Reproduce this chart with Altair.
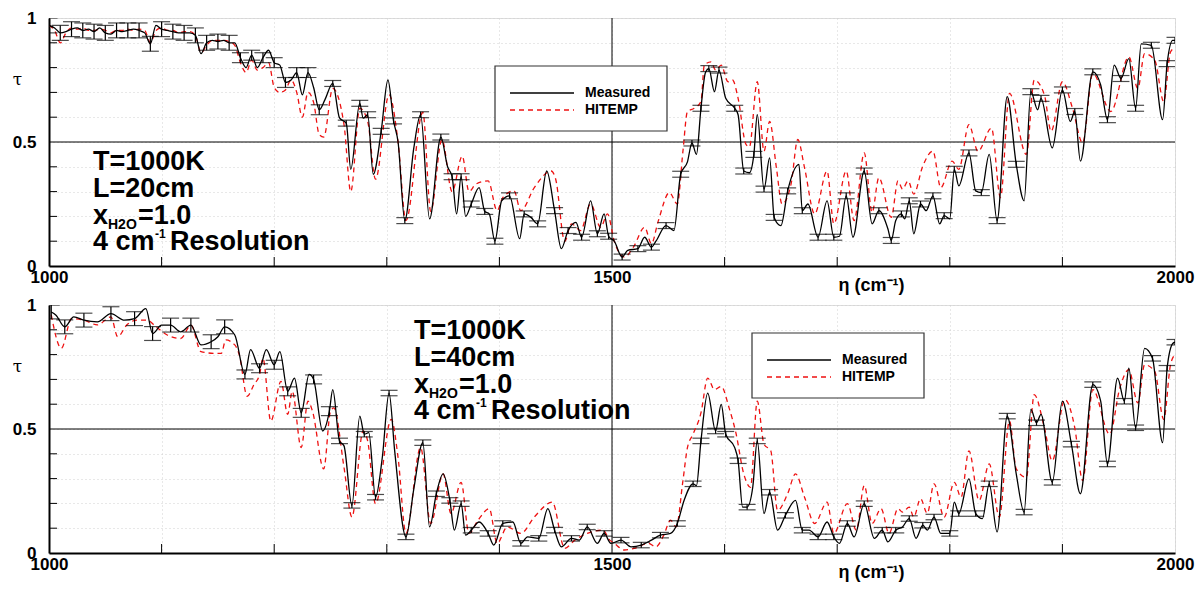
import altair as alt
import pandas as pd

# ---------------- data ----------------
# Panel 1: T=1000K, L=20cm
M1_X = [1000,1005,1010,1015,1020,1025,1030,1035,1040,1045,1050,1055,1060,1065,1070,1075,1080,1085,1090,1095,1100,1105,1110,1115,1120,1125,1130,1135,1140,1145,1150,1155,1160,1165,1170,1175,1180,1185,1190,1195,1200,1205,1210,1215,1220,1225,1230,1235,1240,1245,
        1252,1258,1264,1268,1276,1279,1283,1288,1295,1301,1306,1310,1316,1324,1330,1338,1348,1354,1358,1362,1366,1370,1375,1382,1387,1391,1396,1402,1409,1418,1422,1428,1434,1442,1449,1455,1461,1468,1473,1481,1487,1493,1497,
        1502,1509,1514,1523,1529,1535,1539,1548,1555,1561,1567,1571,1575,1579,1583,1586,1591,1595,1601,1609,1612,1617,1622,1626,1629,1635,1640,1644,1650,1656,1666,1669,1674,1683,1691,1697,1702,1708,1714,1724,1731,1737,
        1745,1748,1752,1757,1760,1764,1768,1774,1779,1785,1791,1795,1800,1804,1808,1817,1823,1828,1835,1842,1851,1859,1866,1872,1878,1881,1891,1900,1907,1911,1916,1927,1934,1940,1946,1952,1959,1965,1970,1979,1989,1993,1998,2000]
M1_Y = [.97,.96,.94,.945,.955,.96,.95,.955,.945,.96,.94,.935,.95,.945,.95,.955,.95,.94,.896,.97,.955,.95,.945,.94,.94,.94,.93,.856,.90,.91,.905,.91,.90,.90,.84,.80,.85,.80,.84,.87,.82,.81,.74,.75,.78,.69,.78,.72,.63,.67,
        .736,.597,.576,.39,.656,.596,.61,.37,.543,.75,.585,.50,.183,.476,.61,.19,.52,.40,.36,.21,.36,.20,.25,.316,.22,.21,.10,.263,.283,.11,.21,.196,.17,.383,.223,.07,.143,.176,.116,.263,.13,.21,.12,
        .10,.036,.063,.07,.116,.076,.10,.163,.143,.37,.42,.496,.45,.636,.78,.796,.703,.79,.676,.636,.61,.383,.376,.45,.61,.31,.436,.196,.163,.303,.41,.223,.25,.116,.263,.116,.12,.283,.116,.383,.17,.223,
        .15,.103,.183,.21,.19,.263,.13,.25,.223,.283,.17,.203,.19,.39,.323,.456,.303,.296,.45,.183,.683,.41,.263,.703,.63,.676,.476,.71,.583,.623,.423,.783,.73,.59,.81,.756,.836,.636,.896,.89,.59,.816,.91,.91]
H1_X = [1000,1005,1010,1015,1020,1025,1030,1035,1040,1045,1050,1055,1060,1065,1070,1075,1080,1085,1090,1095,1100,1105,1110,1115,1120,1125,1130,1135,1140,1145,1150,1155,1160,1165,1170,1175,1180,1185,1190,1195,1200,1205,1210,1215,1220,1225,1230,1235,1240,1244,
        1252,1262,1268,1276,1283,1290,1302,1310,1317,1332,1339,1349,1358,1367,1373,1379,1390,1398,1403,1413,1419,1431,1446,1450,1458,1464,1472,1481,1490,1496,
        1502,1511,1519,1529,1535,1541,1551,1558,1563,1567,1573,1579,1582,1588,1592,1597,1603,1607,1612,1619,1622,1629,1635,1640,1646,1651,1659,1665,1671,1680,1691,1697,1708,1715,1724,1731,1737,
        1748,1754,1758,1763,1768,1776,1785,1792,1802,1808,1817,1825,1837,1845,1853,1868,1875,1884,1890,1900,1909,1918,1927,1943,1959,1967,1973,1982,1990,1996,2000]
H1_Y = [.97,.95,.90,.94,.96,.955,.96,.95,.95,.955,.95,.94,.95,.95,.955,.95,.955,.95,.90,.95,.96,.95,.95,.94,.945,.945,.93,.86,.89,.91,.91,.91,.905,.89,.82,.78,.83,.79,.80,.82,.72,.70,.71,.75,.70,.60,.70,.66,.53,.52,
        .716,.57,.30,.636,.583,.35,.69,.50,.183,.62,.22,.51,.30,.443,.30,.33,.343,.223,.276,.303,.223,.316,.383,.35,.10,.17,.143,.25,.156,.21,
        .10,.036,.076,.156,.09,.18,.296,.25,.463,.623,.636,.663,.81,.823,.79,.81,.743,.75,.676,.49,.48,.743,.463,.583,.396,.25,.33,.51,.396,.21,.383,.17,.383,.183,.456,.216,.356,
        .196,.343,.31,.343,.29,.403,.463,.316,.423,.39,.57,.463,.556,.276,.696,.45,.75,.69,.543,.743,.636,.496,.776,.623,.843,.716,.856,.83,.663,.863,.88]

# Panel 2: T=1000K, L=40cm
M2_X = [1002,1006,1014,1022,1031,1043,1055,1067,1076,1086,1092,1100,1108,1117,1126,1135,1144,1150,1156,1165,1174,1179,1187,1193,1200,1205,1212,1218,1224,1231,1235,1243,1249,
        1252,1258,1262,1269,1276,1280,1284,1290,1296,1302,1307,1317,1324,1332,1338,1344,1350,1356,1360,1366,1370,1375,1382,1390,1395,1403,1412,1419,1425,1435,1443,1449,1455,1464,1471,1478,1487,1493,
        1499,1508,1517,1526,1535,1543,1552,1558,1564,1572,1575,1579,1585,1592,1597,1601,1609,1612,1616,1620,1625,1629,1635,1640,1647,1654,1663,1669,1675,1683,1691,1697,1702,1709,1715,1724,1733,1740,
        1745,1752,1758,1764,1770,1776,1780,1786,1792,1800,1804,1808,1817,1823,1829,1835,1842,1851,1859,1866,1872,1877,1881,1891,1900,1908,1916,1927,1934,1940,1949,1955,1959,1965,1973,1980,1989,1993,1998,2000]
M2_Y = [.972,.96,.912,.952,.939,.932,.965,.939,.945,.985,.885,.919,.919,.892,.919,.839,.852,.872,.912,.879,.72,.82,.745,.82,.759,.812,.652,.705,.565,.72,.70,.492,.572,
        .659,.452,.432,.192,.552,.479,.485,.225,.385,.645,.412,.065,.259,.445,.105,.239,.319,.212,.092,.199,.072,.092,.125,.079,.032,.119,.125,.039,.065,.059,.179,.092,.025,.059,.052,.105,.039,.079,
        .039,.052,.025,.032,.052,.072,.079,.119,.212,.279,.272,.452,.645,.492,.599,.479,.425,.372,.185,.185,.265,.452,.159,.245,.092,.152,.212,.092,.092,.065,.125,.065,.039,.119,.065,.199,.059,.092,
        .045,.092,.105,.139,.059,.112,.092,.145,.079,.079,.205,.159,.299,.159,.139,.279,.085,.552,.319,.165,.579,.525,.559,.285,.612,.439,.239,.679,.612,.359,.705,.612,.745,.505,.825,.785,.445,.745,.845,.85]
H2_X = [1002,1011,1020,1031,1043,1055,1061,1069,1078,1087,1095,1105,1117,1126,1135,1147,1153,1157,1165,1169,1176,1182,1187,1190,1197,1206,1212,1216,1224,1230,1234,1244,1250,
        1253,1262,1269,1279,1283,1290,1304,1310,1317,1330,1339,1350,1357,1366,1373,1381,1391,1398,1407,1419,1431,1447,1458,1467,1478,1492,1498,
        1502,1511,1520,1532,1539,1546,1552,1557,1563,1567,1572,1579,1585,1591,1597,1604,1610,1617,1623,1629,1635,1641,1647,1656,1663,1671,1680,1691,1697,1709,1717,1724,1731,1739,
        1746,1754,1758,1764,1768,1774,1780,1786,1795,1804,1810,1817,1826,1835,1844,1853,1859,1868,1875,1884,1891,1902,1911,1918,1927,1942,1951,1959,1967,1973,1982,1990,1996,2000]
H2_Y = [.96,.825,.945,.939,.92,.952,.872,.919,.939,.939,.912,.879,.865,.919,.812,.805,.805,.859,.839,.799,.632,.679,.72,.785,.532,.692,.559,.652,.425,.612,.572,.339,.572,
        .585,.345,.145,.492,.452,.199,.539,.385,.079,.425,.119,.319,.159,.285,.079,.132,.179,.039,.105,.079,.145,.205,.019,.052,.079,.092,.052,
        .039,.012,.019,.039,.025,.072,.132,.105,.292,.425,.479,.565,.705,.659,.672,.585,.485,.319,.265,.612,.439,.412,.172,.239,.319,.225,.119,.205,.079,.199,.092,.272,.119,.179,
        .079,.179,.165,.185,.145,.219,.16,.279,.145,.285,.225,.412,.212,.359,.145,.532,.339,.305,.639,.505,.372,.619,.505,.292,.659,.479,.665,.739,.605,.759,.732,.539,.759,.8]

# approximate half-width of the error bars, by wavenumber band
ERR1_EDGES = [1000, 1168, 1250, 2001]
ERR1_HALF = [0.03, 0.02, 0.012]
ERR2_EDGES = [1000, 1168, 1250, 2001]
ERR2_HALF = [0.028, 0.018, 0.011]

X_TICKS = [1000, 1100, 1200, 1300, 1400, 1500, 1600, 1700, 1800, 1900, 2000]
X_LABELED = [1000, 1500, 2000]
Y_TICKS = [0, 0.1, 0.2, 0.3, 0.4, 0.5, 0.6, 0.7, 0.8, 0.9, 1]
Y_LABELED = {0: "0", 0.5: "0.5", 1: "1"}
X_INNER = [1100, 1200, 1300, 1400, 1600, 1700, 1800, 1900]
Y_INNER = [0.1, 0.2, 0.3, 0.4, 0.6, 0.7, 0.8, 0.9]
REF_X = 1500
REF_Y = 0.5
SERIES = ["Measured", "HITEMP"]

# ---------------- styling ----------------
W, H = 1126, 248
RED = "#ee1111"
FONT = "Liberation Sans, Arial, sans-serif"

x_expr = " : ".join(f"datum.value == {v} ? '{v}'" for v in X_LABELED) + " : ''"
y_expr = " : ".join(f"datum.value == {k} ? '{s}'" for k, s in Y_LABELED.items()) + " : ''"

xscale = alt.Scale(domain=[1000, 2000], nice=False, zero=False)
yscale = alt.Scale(domain=[0, 1], nice=False, zero=False)

xaxis = alt.Axis(values=X_TICKS, labelExpr=x_expr, grid=True, gridColor="#d0d0d0",
                 gridDash=[1, 3], gridWidth=1, ticks=False, domainColor="black",
                 domainWidth=2, labelFont=FONT, labelFontSize=17, labelFontWeight="bold",
                 labelColor="black", labelPadding=3, labelOverlap=False, labelFlush=False,
                 title="η (cm⁻¹)", titleFont=FONT, titleFontSize=18, titleFontWeight="bold",
                 titleColor="black", titleX=822, titleY=19, titleAlign="center",
                 titleBaseline="middle")
yaxis = alt.Axis(values=Y_TICKS, labelExpr=y_expr, grid=True, gridColor="#d0d0d0",
                 gridDash=[1, 3], gridWidth=1, ticks=False, domainColor="black",
                 domainWidth=2, labelFont=FONT, labelFontSize=17, labelFontWeight="bold",
                 labelColor="black", labelPadding=13, labelOverlap=False, labelFlush=False,
                 title="τ", titleFont="DejaVu Serif, serif", titleFontSize=17,
                 titleFontWeight="normal", titleColor="black", titleAngle=0, titleX=-32,
                 titleY=61, titleAlign="center", titleBaseline="middle")

DUMMY = pd.DataFrame({"d": [0]})


def series_line(xs, ys, color, width, dash=None):
    df = pd.DataFrame({"x": xs, "y": ys})
    kw = dict(color=color, strokeWidth=width, interpolate="monotone", clip=True)
    if dash:
        kw["strokeDash"] = dash
    return alt.Chart(df).mark_line(**kw).encode(
        x=alt.X("x:Q", scale=xscale, axis=xaxis),
        y=alt.Y("y:Q", scale=yscale, axis=yaxis))


def error_bars(xs, ys, edges, halves):
    rows = []
    for i, (x, y) in enumerate(zip(xs, ys)):
        if i % 2:
            continue
        e = halves[-1]
        for k in range(len(halves)):
            if edges[k] <= x < edges[k + 1]:
                e = halves[k]
                break
        rows.append({"x": x, "lo": y - e, "hi": y + e})
    df = pd.DataFrame(rows)
    return alt.Chart(df).mark_errorbar(ticks=True, size=17, thickness=1.2,
                                       color="black", clip=True).encode(
        x=alt.X("x:Q", scale=xscale, axis=xaxis),
        y=alt.Y("lo:Q", scale=yscale, axis=yaxis),
        y2="hi:Q")


def text(t, px, py, size=27, weight="bold", align="left", baseline="alphabetic"):
    return alt.Chart(DUMMY).mark_text(text=t, font=FONT, fontSize=size, fontWeight=weight,
                                      align=align, baseline=baseline, color="black").encode(
        x=alt.value(px), y=alt.value(py))


def annotation(left, b0, length_label):
    b = [b0, b0 + 27, b0 + 54, b0 + 80]
    return [
        text("T=1000K", left, b[0]),
        text(length_label, left, b[1]),
        text("x", left, b[2]),
        text("H2O", left + 15, b[2] + 5, size=14),
        text("=1.0", left + 45, b[2]),
        text("4 cm", left, b[3]),
        text("-1", left + 62, b[3] - 12, size=12),
        text("Resolution", left + 77, b[3]),
    ]


def legend(bx, by):
    box = alt.Chart(DUMMY).mark_rect(fill="white", stroke="#333333", strokeWidth=1.2).encode(
        x=alt.value(bx), x2=alt.value(bx + 172), y=alt.value(by), y2=alt.value(by + 65))
    l1 = alt.Chart(DUMMY).mark_rule(color="black", strokeWidth=1.3).encode(
        x=alt.value(bx + 15), x2=alt.value(bx + 79), y=alt.value(by + 27))
    l2 = alt.Chart(DUMMY).mark_rule(color=RED, strokeWidth=1.3, strokeDash=[5, 4]).encode(
        x=alt.value(bx + 15), x2=alt.value(bx + 79), y=alt.value(by + 44))
    t1 = text(SERIES[0], bx + 90, by + 27, size=14, baseline="middle")
    t2 = text(SERIES[1], bx + 90, by + 44, size=14, baseline="middle")
    return [box, l1, l2, t1, t2]


def panel(mx, my, hx, hy, edges, halves, bx, by, tl, tb, length_label):
    ref_h = alt.Chart(DUMMY).mark_rule(color="black", strokeWidth=1).encode(
        y=alt.Y(datum=REF_Y, scale=yscale, axis=yaxis))
    ref_v = alt.Chart(DUMMY).mark_rule(color="black", strokeWidth=1).encode(
        x=alt.X(datum=REF_X, scale=xscale, axis=xaxis))
    yin = alt.Chart(pd.DataFrame({"t": Y_INNER})).mark_rule(color="black", strokeWidth=1).encode(
        y=alt.Y("t:Q", scale=yscale, axis=yaxis), x=alt.value(0), x2=alt.value(8))
    xin = alt.Chart(pd.DataFrame({"t": X_INNER})).mark_rule(color="black", strokeWidth=1).encode(
        x=alt.X("t:Q", scale=xscale, axis=xaxis), y=alt.value(H), y2=alt.value(H - 9))
    layers = [ref_h, ref_v,
              series_line(hx, hy, RED, 1.3, [5, 4]),
              series_line(mx, my, "black", 1.3),
              error_bars(mx, my, edges, halves),
              yin, xin]
    layers += legend(bx, by)
    layers += annotation(tl, tb, length_label)
    return alt.layer(*layers).properties(width=W, height=H)


p1 = panel(M1_X, M1_Y, H1_X, H1_Y, ERR1_EDGES, ERR1_HALF, 446, 48, 44, 152, "L=20cm")
p2 = panel(M2_X, M2_Y, H2_X, H2_Y, ERR2_EDGES, ERR2_HALF, 703, 28, 365, 34, "L=40cm")

chart = alt.vconcat(p1, p2, spacing=39, bounds="flush").properties(
    padding={"left": 3, "top": 0, "right": 0, "bottom": 0}
).configure_view(stroke="black", strokeWidth=1).configure(background="white")

chart.save("out.html", embed_options={"renderer": "svg", "actions": False})
